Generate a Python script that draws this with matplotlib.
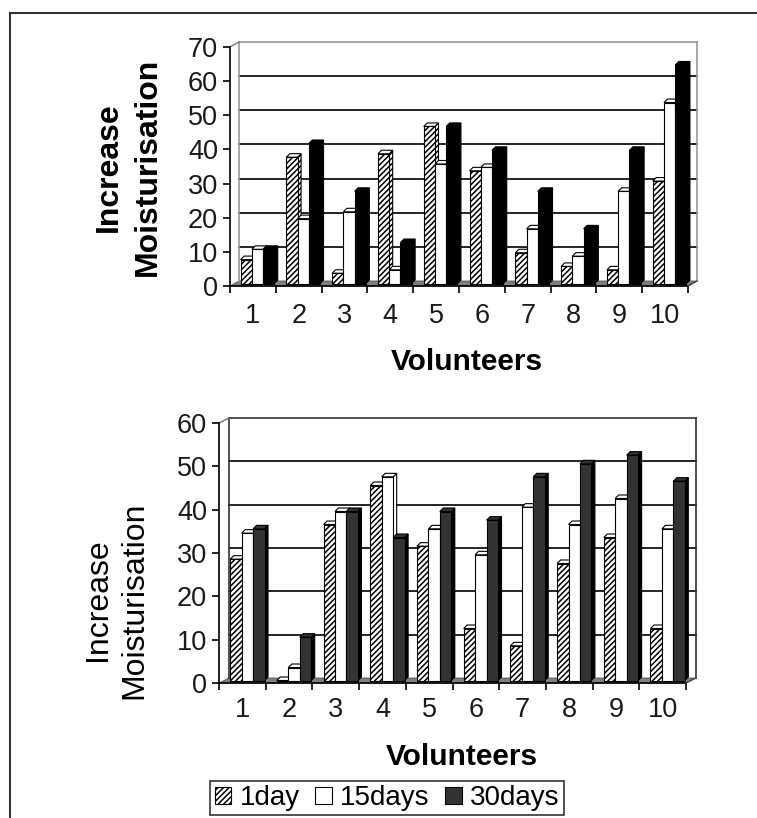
import matplotlib
matplotlib.use("Agg")
import matplotlib.pyplot as plt
from matplotlib.patches import Polygon, Patch
from matplotlib.lines import Line2D
import numpy as np

plt.rcParams["font.family"] = ["Liberation Sans", "DejaVu Sans"]
plt.rcParams["hatch.linewidth"] = 1.1

volunteers = ["1", "2", "3", "4", "5", "6", "7", "8", "9", "10"]
series_names = ["1day", "15days", "30days"]

# top chart
top_1day = [7, 37, 3, 38, 46, 33, 9, 5, 4, 30]
top_15days = [10, 19, 21, 4, 35, 34, 16, 8, 27, 53]
top_30days = [10, 41, 27, 12, 46, 39, 27, 16, 39, 64]

# bottom chart
bot_1day = [28, 0, 36, 45, 31, 12, 8, 27, 33, 12]
bot_15days = [34, 3, 39, 47, 35, 29, 40, 36, 42, 35]
bot_30days = [35, 10, 39, 33, 39, 37, 47, 50, 52, 46]

W, H = 757, 818
fig = plt.figure(figsize=(W / 100, H / 100), dpi=100)


def px_box(left, right, y0, ytop):
    return [left / W, 1 - y0 / H, (right - left) / W, (y0 - ytop) / H]


def draw_chart(ax, box, data, ymax, dark, wall_col, wall_px, xpad):
    n = len(volunteers)
    ax_w = box[2] * W
    ax_h = box[3] * H
    ux = ax_w / n          # px per x unit
    uy = ax_h / ymax       # px per y unit
    wdx, wdy = wall_px[0] / ux, wall_px[1] / uy
    bdx, bdy = wdx / 2, wdy / 2
    sdx, sdy = 3.5 / ux, 3.5 / uy

    ax.set_xlim(-0.5, n - 0.5)
    ax.set_ylim(0, ymax)
    for s in ["top", "right"]:
        ax.spines[s].set_visible(False)
    ax.spines["left"].set_linewidth(1.2)
    ax.spines["bottom"].set_linewidth(1.2)

    # floor
    ax.add_patch(Polygon([(-0.5, 0), (n - 0.5, 0), (n - 0.5 + wdx, wdy),
                          (-0.5 + wdx, wdy)], closed=True, fc="#7f7f7f",
                         ec="#555555", lw=0.6, zorder=1, clip_on=False))
    # back wall grid
    ticks = np.arange(0, ymax + 1, 10)
    for t in ticks[1:]:
        col = wall_col if t == ymax else "black"
        ax.plot([-0.5 + wdx, n - 0.5 + wdx], [t + wdy, t + wdy], color=col,
                lw=1.2, zorder=1, clip_on=False)
    ax.plot([-0.5 + wdx, -0.5 + wdx], [wdy, ymax + wdy], color=wall_col,
            lw=1.2, zorder=1, clip_on=False)
    ax.plot([n - 0.5 + wdx, n - 0.5 + wdx], [wdy, ymax + wdy], color=wall_col,
            lw=1.2, zorder=1, clip_on=False)
    ax.plot([-0.5, -0.5 + wdx], [ymax, ymax + wdy], color="#777777",
            lw=1.0, zorder=1, clip_on=False)
    ax.plot([n - 0.5, n - 0.5 + wdx], [0, wdy], color="#444444",
            lw=1.0, zorder=3, clip_on=False)

    x = np.arange(n)
    bw = 0.245
    offs = [-bw, 0, bw]
    styles = [dict(fc="white", hatch="//////"), dict(fc="white", hatch=None),
              dict(fc=dark, hatch=None)]
    side_cols = ["white", "white", "black"]
    for k, vals in enumerate(data):
        for i, v in enumerate(vals):
            xl = x[i] + offs[k] - bw / 2 + bdx
            xr = xl + bw
            b = bdy
            t = bdy + v
            z = 4 + k
            side = Polygon([(xr, b), (xr + sdx, b + sdy), (xr + sdx, t + sdy),
                            (xr, t)], closed=True, fc=side_cols[k],
                           hatch=styles[k]["hatch"], ec="black", lw=0.8,
                           zorder=z, clip_on=False)
            cap = Polygon([(xl, t), (xl + sdx, t + sdy), (xr + sdx, t + sdy),
                           (xr, t)], closed=True, fc="white" if k < 2 else dark,
                          ec="black", lw=0.8, zorder=z, clip_on=False)
            ax.add_patch(side)
            ax.add_patch(cap)
            ax.bar(xl, v, width=bw, bottom=b, align="edge", color=styles[k]["fc"],
                   hatch=styles[k]["hatch"], edgecolor="black", linewidth=0.8,
                   zorder=z + 0.5, clip_on=False)

    ax.set_yticks(ticks)
    ax.set_yticklabels([str(t) for t in ticks])
    ax.set_xticks(x)
    ax.set_xticklabels(volunteers)
    ax.set_xticks(np.arange(-0.5, n), minor=True)
    ax.tick_params(axis="y", length=5, width=1.2, pad=3.5, labelsize=19.5,
                   labelcolor="#1a1a1a")
    ax.tick_params(axis="x", which="major", length=0, pad=xpad, labelsize=19.5,
                   labelcolor="#1a1a1a")
    ax.tick_params(axis="x", which="minor", length=5, width=1.2)
    ax.patch.set_visible(False)


box_top = px_box(230, 688, 286, 47)
ax1 = fig.add_axes(box_top)
draw_chart(ax1, box_top, [top_1day, top_15days, top_30days], 70, "black",
           "#999999", (9, 5), 12)

box_bot = px_box(219, 686, 683, 423)
ax2 = fig.add_axes(box_bot)
draw_chart(ax2, box_bot, [bot_1day, bot_15days, bot_30days], 60, "#333333",
           "#333333", (10, 5), 10)

# axis titles
fig.text(128 / W, 1 - 167 / H, "Increase\nMoisturisation", rotation=90,
         ha="center", va="center", ma="center", fontsize=23,
         fontweight="bold", linespacing=1.4)
fig.text(116 / W, 1 - 600 / H, "Increase\nMoisturisation", rotation=90,
         ha="center", va="center", ma="center", fontsize=23,
         linespacing=1.3)
fig.text(467 / W, 1 - 362 / H, "Volunteers", ha="center", va="center",
         fontsize=21.5, fontweight="bold")
fig.text(462 / W, 1 - 757 / H, "Volunteers", ha="center", va="center",
         fontsize=21.5, fontweight="bold")

# legend
handles = [Patch(fc="white", ec="black", hatch="//////", lw=0.8),
           Patch(fc="white", ec="black", lw=0.8),
           Patch(fc="#333333", ec="black", lw=0.8)]
leg = fig.legend(handles, series_names, loc="upper center",
                 bbox_to_anchor=(387 / W, 1 - 781 / H), ncol=3, fontsize=20,
                 frameon=True, fancybox=False, handlelength=0.6,
                 handleheight=0.6, handletextpad=0.3, columnspacing=0.55,
                 borderpad=0.15, borderaxespad=0)
leg.get_frame().set_edgecolor("black")
leg.get_frame().set_linewidth(1.2)

# outer border (top and left visible)
fig.add_artist(Line2D([10 / W, 1], [1 - 13 / H, 1 - 13 / H], color="#333333",
                      lw=1.5))
fig.add_artist(Line2D([10 / W, 10 / W], [0, 1 - 13 / H], color="#333333",
                      lw=1.5))

fig.savefig("out.png", dpi=100)
